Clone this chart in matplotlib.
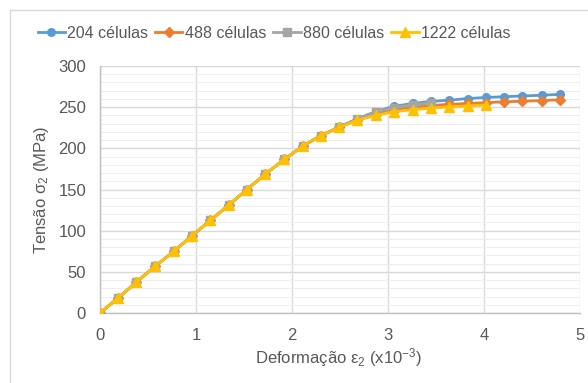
import matplotlib
matplotlib.use("Agg")
import matplotlib.pyplot as plt
from matplotlib.ticker import MultipleLocator
from matplotlib.lines import Line2D

plt.rcParams['font.family'] = ['Liberation Sans', 'DejaVu Sans']
plt.rcParams['mathtext.fontset'] = 'custom'
plt.rcParams['mathtext.rm'] = 'Liberation Sans'
plt.rcParams['mathtext.it'] = 'Liberation Sans'

# ---- data ----
strain = [0, 0.19, 0.38, 0.57, 0.77, 0.96, 1.15, 1.34, 1.53, 1.72, 1.92, 2.11,
          2.30, 2.49, 2.68, 2.87, 3.06, 3.26, 3.45, 3.64, 3.83, 4.02, 4.21, 4.40,
          4.60, 4.79]
common = [0, 18.5, 37.5, 56.5, 75, 94, 112.5, 131, 150, 168.5, 186.5, 202.5,
          215.5, 225.5]
s204 = common + [236, 244.5, 251, 254.5, 257, 258.5, 260.5, 261.8, 262.7, 263.6, 264.5, 265.5]
s488 = common + [235, 242, 247, 250, 252, 253.5, 254.5, 255.5, 256.5, 257.3, 258, 259]
s880 = common + [236, 244, 249.5, 253, 255]
s1222 = common + [234, 240, 244.5, 247, 248.8, 250.5, 251.5, 252.6]
labels = ['204 células', '488 células', '880 células', '1222 células']
colors = ['#5B9BD5', '#ED7D31', '#A5A5A5', '#FFC000']
markers = ['o', 'D', 's', '^']
msizes = [5.5, 5.5, 5.5, 7.0]

fig = plt.figure(figsize=(5.88, 3.83), dpi=100)
ax = fig.add_axes([100/588, 1-313/383, 480/588, 247/383])

series = [s204, s488, s880, s1222]
for ys, lab, c, m, ms in zip(series, labels, colors, markers, msizes):
    ax.plot(strain[:len(ys)], ys, color=c, marker=m, markersize=ms, lw=2.0,
            label=lab, markeredgecolor=c, zorder=3)

ax.set_xlim(0, 5)
ax.set_ylim(0, 300)
ax.xaxis.set_major_locator(MultipleLocator(1))
ax.yaxis.set_major_locator(MultipleLocator(50))
ax.yaxis.set_minor_locator(MultipleLocator(10))
ax.grid(which='major', color='#D9D9D9', lw=1.0, zorder=0)
ax.grid(which='minor', axis='y', color='#EEEEEE', lw=0.8, zorder=0)
ax.set_axisbelow(True)
for s in ['top', 'right']:
    ax.spines[s].set_visible(False)
for s in ['left', 'bottom']:
    ax.spines[s].set_color('#BFBFBF')
    ax.spines[s].set_linewidth(1.0)
ax.tick_params(which='both', length=0, labelsize=12, labelcolor='#595959')
ax.tick_params(axis='x', pad=11)
ax.tick_params(axis='y', pad=10)

fig.text(41.5/588, 1-189.5/383, 'Tensão σ$_2$ (MPa)', rotation=90,
         ha='center', va='center', fontsize=12, color='#595959')
fig.text(339/588, 1-358/383, 'Deformação ε$_2$ (x10$^{-3}$)',
         ha='center', va='center', fontsize=12, color='#595959')

leg = fig.legend(loc='center', bbox_to_anchor=(274/588, 1-33/383), ncol=4,
                 frameon=False, fontsize=11.5, handlelength=1.7, handletextpad=0.15,
                 columnspacing=0.45, labelcolor='#595959', borderaxespad=0)

# chart area border
fig.add_artist(Line2D([10/588, 10/588], [0, 1-10/383], transform=fig.transFigure,
                      color='#D9D9D9', lw=1.0))
fig.add_artist(Line2D([10/588, 1], [1-10/383, 1-10/383], transform=fig.transFigure,
                      color='#D9D9D9', lw=1.0))

fig.savefig('out.png', dpi=100)
